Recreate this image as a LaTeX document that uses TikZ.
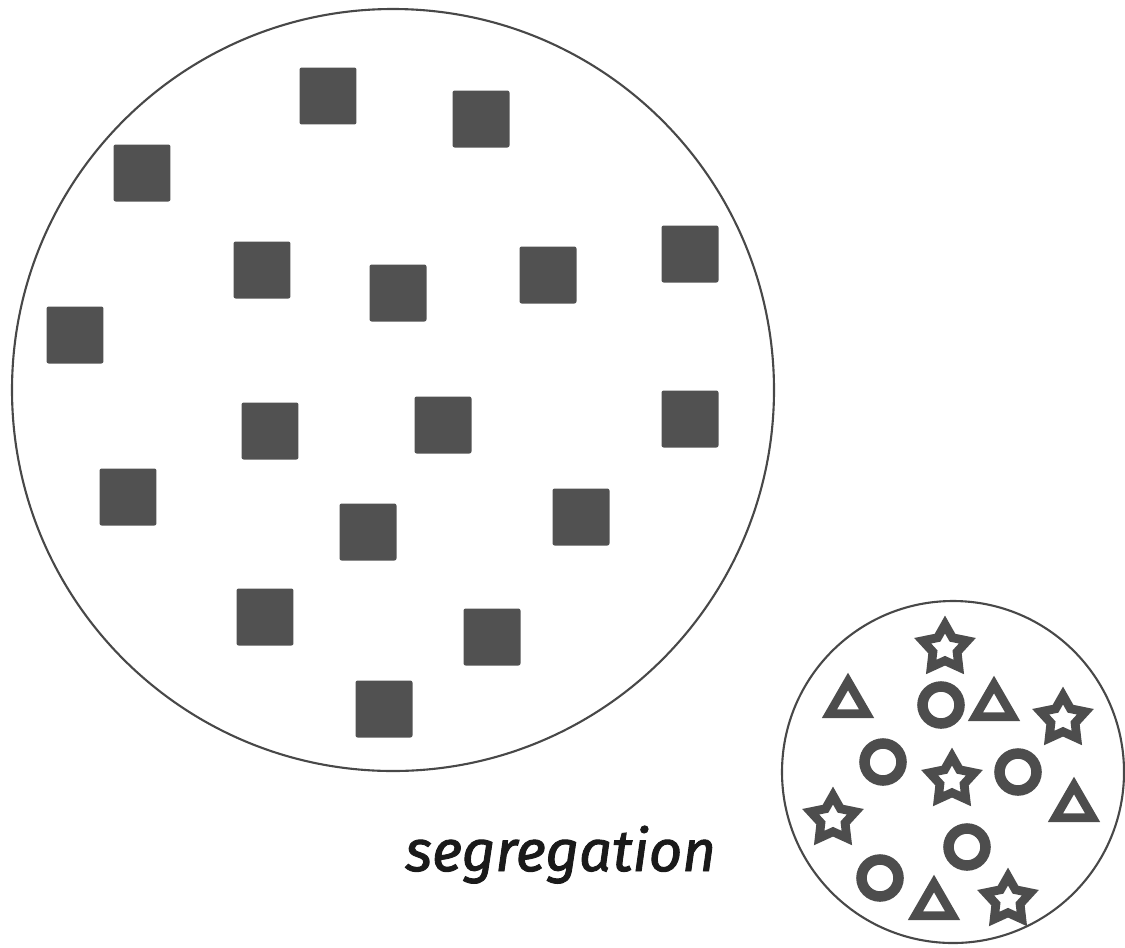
\documentclass[tikz,border=0pt]{standalone}
\usepackage{fontspec}
\usetikzlibrary{shapes.geometric}
\newfontfamily\handfont{Fira Sans}[ItalicFeatures={FakeBold=1.6}]
\definecolor{sqgray}{HTML}{515151}
\definecolor{rimgray}{HTML}{484848}
\definecolor{shgray}{HTML}{4D4D4D}
\definecolor{inkblack}{HTML}{1A1A1A}

\begin{document}
\begin{tikzpicture}[x=0.02cm, y=-0.02cm]
\tikzset{rim/.style={draw=rimgray,line width=1.2pt},
  blk/.style={rectangle,fill=sqgray,rounded corners=1.2pt,minimum size=1.14cm,inner sep=0pt},
  ringshp/.style={circle,draw=shgray,line width=6pt,minimum size=0.74cm,inner sep=0pt},
  trishp/.style={regular polygon,regular polygon sides=3,draw=shgray,line width=5pt,minimum size=0.86cm,inner sep=0pt},
  starshp/.style={star,star points=5,star point ratio=1.85,draw=shgray,line width=5pt,minimum size=0.94cm,inner sep=0pt}}
\useasboundingbox (0,0) rectangle (1125,947);
% the two groups
\coordinate (big) at (393,390);
\coordinate (small) at (953,772);
\draw[rim] (big) circle[radius=381];
\draw[rim] (small) circle[radius=171];
% one kind only
\foreach \x/\y [count=\i] in {328/96, 481/119, 142/173, 262/270, 398/293, 548/275, 690/254,
  75/335, 270/431, 443/425, 690/419, 128/497, 368/532, 581/517, 265/617, 492/637, 384/709}
  \node[blk] (sq\i) at (\x,\y) {};
% mixed kinds
\foreach \x/\y [count=\i] in {941/705, 883/762, 1018/772, 967/847, 880/878}
  \node[ringshp] (ring\i) at (\x,\y) {};
\foreach \x/\y [count=\i] in {848/703, 994/706, 1074/807, 934/905}
  \node[trishp] (tri\i) at (\x,\y) {};
\foreach \x/\y [count=\i] in {945/648, 1063/719, 952/780, 833/819, 1008/900}
  \node[starshp] (star\i) at (\x,\y) {};
\node[anchor=base west,inner sep=0pt,text=inkblack,font=\handfont\itshape\fontsize{33}{38}\selectfont] (lbl) at (405,871) {segregation};
\end{tikzpicture}
\end{document}
